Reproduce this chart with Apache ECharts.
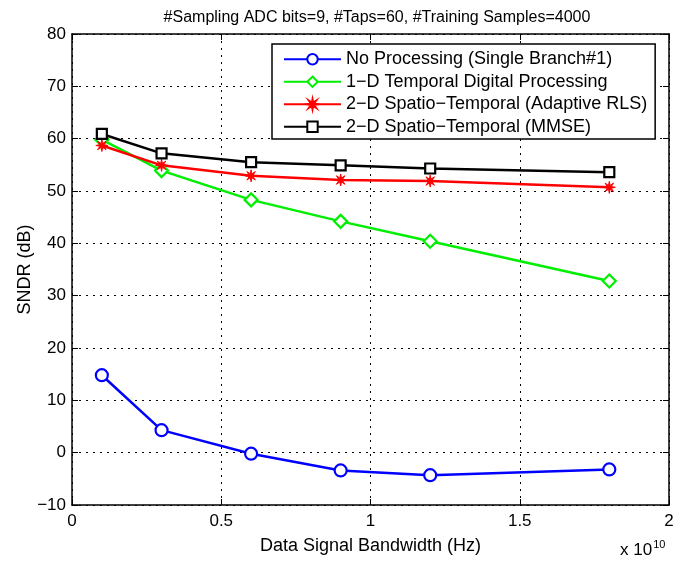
<!DOCTYPE html>
<html><head><meta charset="utf-8">
<script src="https://cdn.jsdelivr.net/npm/echarts@6/dist/echarts.min.js"></script>
<style>html,body{margin:0;padding:0;background:#fff}#c{width:686px;height:561px}</style>
</head><body><div id="c"></div>
<script>
const bandwidth = [0.1, 0.3, 0.6, 0.9, 1.2, 1.8];
const noProcessing = [14.8, 4.3, -0.2, -3.4, -4.3, -3.2];
const temporal1D = [59.8, 53.9, 48.3, 44.2, 40.4, 32.8];
const spatioRLS = [58.7, 54.9, 52.9, 52.1, 51.9, 50.7];
const spatioMMSE = [60.9, 57.2, 55.5, 54.9, 54.3, 53.6];
const seriesNames = ['No Processing (Single Branch#1)', '1\u2212D Temporal Digital Processing', '2\u2212D Spatio\u2212Temporal (Adaptive RLS)', '2\u2212D Spatio\u2212Temporal (MMSE)'];
const xTicks = [0, 0.5, 1, 1.5, 2];
const yTicks = [-10, 0, 10, 20, 30, 40, 50, 60, 70, 80];

const FONT = '"Liberation Sans", Arial, sans-serif';
const star = 'path://M10 0 L3.23 1.34 L7.07 7.07 L1.34 3.23 L0 10 L-1.34 3.23 L-7.07 7.07 L-3.23 1.34 L-10 0 L-3.23 -1.34 L-7.07 -7.07 L-1.34 -3.23 L0 -10 L1.34 -3.23 L7.07 -7.07 L3.23 -1.34 Z';
const pairs = ys => bandwidth.map((x, i) => [x, ys[i]]);

function mk(name, data, color, symbol, size, filled) {
  return {
    name, type: 'line', data: pairs(data), symbol, symbolSize: size,
    lineStyle: { color, width: 2.5 },
    itemStyle: { color: filled ? color : '#fff', borderColor: color, borderWidth: filled ? 1 : 2.2 },
    emphasis: { disabled: true }, animation: false, z: 3
  };
}
const axisCommon = {
  axisLine: { show: true, onZero: false, lineStyle: { color: '#000', width: 1.5 } },
  axisTick: { show: true, inside: true, length: 6, lineStyle: { color: '#000', width: 1 } },
};
const chart = echarts.init(document.getElementById('c'));
chart.setOption({
  backgroundColor: '#fff',
  animation: false,
  title: {
    text: '#Sampling ADC bits=9, #Taps=60, #Training Samples=4000',
    left: 372, top: 5, textAlign: 'center',
    textStyle: { fontFamily: FONT, fontSize: 16, fontWeight: 'normal', color: '#000' }
  },
  grid: { left: 72, right: 17, top: 34, bottom: 56 },
  legend: {
    orient: 'vertical', left: 272, top: 44,
    data: seriesNames,
    backgroundColor: '#fff', borderColor: '#000', borderWidth: 1.5,
    padding: [6, 8, 3, 11], itemGap: 4, itemWidth: 57, itemHeight: 13,
    textStyle: { fontFamily: FONT, fontSize: 18, lineHeight: 18.5, color: '#000' },
    selectedMode: false
  },
  xAxis: [{
    type: 'value', min: 0, max: 2, interval: 0.5, position: 'bottom',
    name: 'Data Signal Bandwidth (Hz)', nameLocation: 'middle', nameGap: 32, nameMoveOverlap: false,
    nameTextStyle: { fontFamily: FONT, fontSize: 18, color: '#000' },
    axisLabel: { fontFamily: FONT, fontSize: 17, color: '#000', margin: 8,
      formatter: v => xTicks.indexOf(v) >= 0 ? String(v) : '' },
    splitLine: { show: true, lineStyle: { color: '#000', type: [2, 5], width: 1 } },
    ...axisCommon
  }, {
    type: 'value', min: 0, max: 2, interval: 0.5, position: 'top',
    axisLabel: { show: false }, splitLine: { show: false }, ...axisCommon
  }],
  yAxis: [{
    type: 'value', min: -10, max: 80, interval: 10,
    name: 'SNDR (dB)', nameLocation: 'middle', nameGap: 38, nameMoveOverlap: false,
    nameTextStyle: { fontFamily: FONT, fontSize: 18, color: '#000' },
    axisLabel: { fontFamily: FONT, fontSize: 17, color: '#000', margin: 6,
      formatter: v => yTicks.indexOf(v) >= 0 ? String(v).replace('-', '\u2212') : '' },
    splitLine: { show: true, lineStyle: { color: '#000', type: [2, 5], width: 1 } },
    ...axisCommon
  }, {
    type: 'value', min: -10, max: 80, interval: 10, position: 'right',
    axisLabel: { show: false }, splitLine: { show: false }, ...axisCommon
  }],
  graphic: [{
    type: 'text', left: 620, top: 539,
    style: {
      text: '{a|x 10}{b|10}',
      rich: {
        a: { fontFamily: FONT, fontSize: 17, fill: '#000' },
        b: { fontFamily: FONT, fontSize: 11, fill: '#000', verticalAlign: 'top', padding: [0, 0, 12, 1] }
      }
    }
  }],
  series: [
    mk(seriesNames[0], noProcessing, '#0000ff', 'circle', 12, false),
    mk(seriesNames[1], temporal1D, '#00ee00', 'diamond', 13, false),
    mk(seriesNames[2], spatioRLS, '#ff0000', star, 12, true),
    mk(seriesNames[3], spatioMMSE, '#000000', 'rect', 10, false)
  ]
});
</script></body></html>
